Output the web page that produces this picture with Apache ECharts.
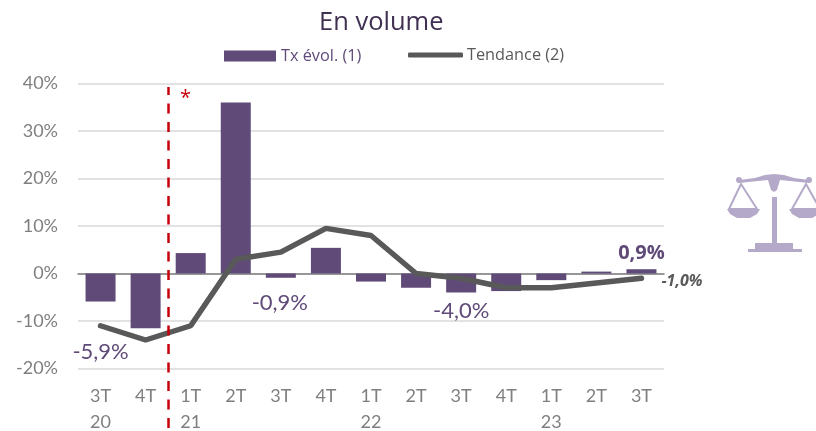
<!DOCTYPE html>
<html>
<head>
<meta charset="utf-8">
<style>
  html, body { margin: 0; padding: 0; background: #fff; }
  #chart { width: 816px; height: 431px; }
</style>
<script src="https://cdn.jsdelivr.net/npm/echarts@6/dist/echarts.min.js"></script>
</head>
<body>
<div id="chart"></div>
<script>
var categories = ['3T\n20', '4T', '1T\n21', '2T', '3T', '4T', '1T\n22', '2T', '3T', '4T', '1T\n23', '2T', '3T'];
var txEvol = [-5.9, -11.5, 4.3, 36, -0.9, 5.4, -1.7, -3, -4, -3.7, -1.4, 0.4, 0.9];
var tendance = [-11, -14, -11, 3, 4.5, 9.5, 8, 0, -1, -3, -3, -2, -1];

var violet = '#5f4a78';
var gris = '#595959';
var icone = '#b5a9c9';

function pct(v) {
  return v.toFixed(1).replace('.', ',') + '%';
}

// libelles affiches seulement sur certains trimestres
function barLabel(i, offset, extra) {
  var lab = {
    show: true,
    position: 'inside',
    offset: offset,
    formatter: function (p) { return pct(p.value); },
    fontFamily: 'Lato',
    fontSize: 22,
    color: violet
  };
  for (var k in extra) lab[k] = extra[k];
  return { value: txEvol[i], label: lab };
}
var barData = txEvol.slice();
barData[0] = barLabel(0, [0, 64]);
barData[4] = barLabel(4, [-1, 27]);
barData[8] = barLabel(8, [0, 28]);
barData[12] = barLabel(12, [0, -18], { fontFamily: 'Open Sans', fontWeight: 'bold', fontSize: 20 });

var lineData = tendance.slice();
lineData[12] = {
  value: tendance[12],
  label: {
    show: true,
    position: 'right',
    offset: [15, 3],
    formatter: function (p) { return pct(p.value); },
    fontFamily: 'Open Sans',
    fontSize: 16,
    fontStyle: 'italic',
    fontWeight: 'bold',
    color: gris
  }
};

var chart = echarts.init(document.getElementById('chart'), null, { renderer: 'canvas' });
chart.setOption({
  animation: false,
  title: {
    text: 'En volume',
    left: 314,
    top: 5,
    textStyle: { fontFamily: 'Open Sans', fontSize: 25.5, fontWeight: 'normal', color: '#403152' }
  },
  legend: [
    {
      left: 224,
      top: 48,
      padding: 0,
      icon: 'rect',
      itemWidth: 52,
      itemHeight: 11,
      itemGap: 0,
      data: ['Tx évol. (1)'],
      textStyle: { fontFamily: 'Open Sans', fontSize: 16.3, color: violet }
    },
    {
      left: 408,
      top: 47,
      padding: 0,
      icon: 'roundRect',
      itemWidth: 55,
      itemHeight: 5,
      itemGap: 0,
      data: ['Tendance (2)'],
      textStyle: { fontFamily: 'Open Sans', fontSize: 16.3, color: gris, padding: [2, 0, 0, -1] }
    }
  ],
  grid: { left: 78, right: 152, top: 83.5, bottom: 62.5, outerBoundsMode: 'none' },
  xAxis: {
    type: 'category',
    data: categories,
    axisLine: { onZero: true, lineStyle: { color: '#7f7f7f', width: 1.5 } },
    axisTick: { show: false },
    axisLabel: {
      interval: 0,
      fontFamily: 'Lato',
      fontSize: 18,
      lineHeight: 26,
      color: '#7f7f7f',
      margin: 15,
      verticalAlign: 'top'
    }
  },
  yAxis: {
    type: 'value',
    min: -20,
    max: 40,
    interval: 10,
    axisLine: { show: false },
    axisTick: { show: false },
    axisLabel: {
      fontFamily: 'Lato',
      fontSize: 18,
      color: '#7f7f7f',
      margin: 20,
      formatter: '{value}%'
    },
    splitLine: { lineStyle: { color: '#d9d9d9', width: 1.5 } }
  },
  series: [
    {
      name: 'Tx évol. (1)',
      type: 'bar',
      data: barData,
      barWidth: 30,
      itemStyle: { color: violet },
      z: 2
    },
    {
      name: 'Tendance (2)',
      type: 'line',
      data: lineData,
      showSymbol: true,
      symbol: 'circle',
      symbolSize: 0,
      lineStyle: { color: gris, width: 5.5, cap: 'round' },
      itemStyle: { color: gris },
      z: 3
    }
  ],
  graphic: [
    // trait vertical de rupture
    {
      type: 'line',
      z: 10,
      shape: { x1: 168.5, y1: 87, x2: 168.5, y2: 431 },
      style: { stroke: '#c8000a', lineWidth: 2.5, lineDash: [10, 8.5], lineDashOffset: 2 }
    },
    {
      type: 'text',
      z: 10,
      x: 180,
      y: 88,
      style: { text: '*', fill: '#c8000a', font: '20px "Open Sans"' }
    },
    // icone balance
    { type: 'rect', z: 10, shape: { x: 772, y: 197, width: 5, height: 48 }, style: { fill: icone } },
    { type: 'rect', z: 10, shape: { x: 755, y: 243, width: 38, height: 6 }, style: { fill: icone } },
    { type: 'rect', z: 10, shape: { x: 748, y: 249, width: 54, height: 3 }, style: { fill: icone } },
    { type: 'polygon', z: 10, shape: { points: [[739, 180], [755, 178], [765, 175], [774, 174], [784, 175], [794, 178], [809, 180], [809, 183], [790, 181], [780, 180], [777, 190], [774, 192], [771, 190], [768, 180], [758, 181], [739, 183]] }, style: { fill: icone } },
    { type: 'circle', z: 10, shape: { cx: 739, cy: 180, r: 3 }, style: { fill: icone } },
    { type: 'circle', z: 10, shape: { cx: 809, cy: 180, r: 3 }, style: { fill: icone } },
    { type: 'polygon', z: 10, shape: { points: [[741, 184], [729, 209], [757, 209]] }, style: { fill: 'none', stroke: icone, lineWidth: 2 } },
    { type: 'polygon', z: 10, shape: { points: [[806, 184], [792, 209], [820, 209]] }, style: { fill: 'none', stroke: icone, lineWidth: 2 } },
    { type: 'polygon', z: 10, shape: { points: [[727, 209], [760, 209], [757, 214], [750, 218], [737, 218], [730, 214]] }, style: { fill: icone } },
    { type: 'polygon', z: 10, shape: { points: [[789, 209], [822, 209], [819, 214], [812, 218], [799, 218], [792, 214]] }, style: { fill: icone } }
  ]
});
</script>
</body>
</html>
